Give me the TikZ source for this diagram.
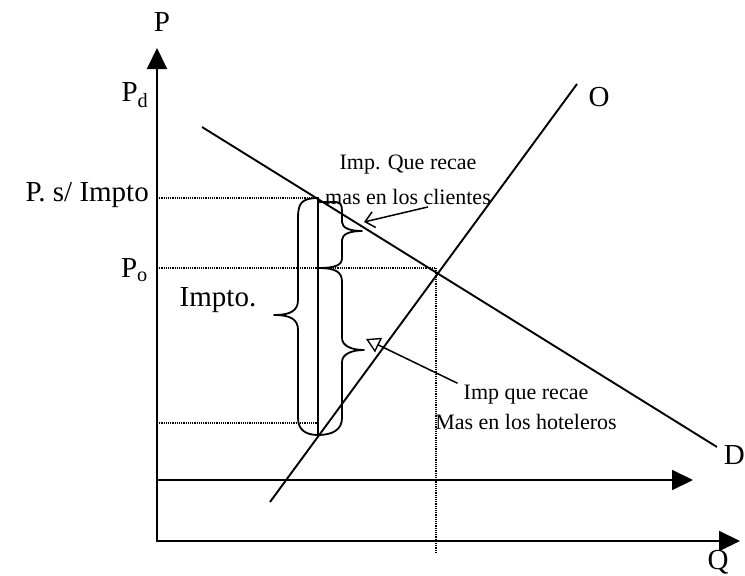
\documentclass[tikz,border=0pt]{standalone}
\usepackage{fontspec}
\setmainfont{Liberation Serif}
\usetikzlibrary{arrows.meta}

\begin{document}
\begin{tikzpicture}[
      x=1pt, y=-1pt,
      axis/.style={line width=2pt, -{Triangle[length=21pt, width=20pt]}},
      curve/.style={line width=1.9pt},
      guide/.style={line width=1.2pt, densely dotted},
      brc/.style={line width=1.8pt, line join=round},
      lbl/.style={inner sep=0pt, font=\fontsize{29}{32}\selectfont},
      note/.style={inner sep=0pt, font=\fontsize{22}{25}\selectfont},
      arr/.style={line width=1.5pt, -{Straight Barb[length=9pt, width=16pt]}},
      arrtri/.style={line width=1.5pt, -{Triangle[open, length=14pt, width=16pt, line width=1.4pt]}}
    ]
    \useasboundingbox (0,0) rectangle (745,576);
    % axes
    \coordinate (O0) at (157,541);
    \coordinate (Ptop) at (157,48);
    \coordinate (Qend) at (740,541);
    \draw[axis] (O0) -- (Ptop);
    \draw[axis] ([xshift=-1pt]O0) -- (Qend);
    \coordinate (Hs) at (157,480);
    \coordinate (He) at (693,480);
    \draw[axis] (Hs) -- (He);
    % demand and supply
    \coordinate (Ds) at (202,127);
    \coordinate (De) at (717,447);
    \coordinate (Ss) at (270,502);
    \coordinate (Se) at (577,84);
    \draw[curve] (Ds) -- (De);
    \draw[curve] (Ss) -- (Se);
    % guide lines
    \draw[guide] (157,198) -- (318,198);
    \draw[guide] (157,268) -- (436,268);
    \draw[guide] (157,423) -- (318,423);
    \draw[guide] (436,268) -- (436,552);
    % tax wedge
    \draw[curve] (318,198) -- (318,435);
    \draw[brc] (318,198) .. controls (301,198) and (298,204) .. (298,218)
      -- (298,300) .. controls (298,311) and (290,315) .. (274,315)
      .. controls (290,315) and (298,319) .. (298,330)
      -- (298,418) .. controls (298,430) and (306,435) .. (318,435);
    \draw[brc] (318,202) -- (334,202) .. controls (341,202) and (342,205) .. (342,212)
      -- (342,222) .. controls (342,228) and (350,231) .. (362,231)
      .. controls (350,231) and (342,234) .. (342,240)
      -- (342,258) .. controls (342,265) and (336,268) .. (318,268);
    \draw[brc] (318,268) .. controls (336,268) and (342,272) .. (342,282)
      -- (342,338) .. controls (342,346) and (352,350) .. (364,350)
      .. controls (352,350) and (342,354) .. (342,362)
      -- (342,418) .. controls (342,430) and (332,435) .. (318,435);
    % labels
    \node[lbl] (P) at (162,22) {P};
    \node[lbl] (Pd) at (135,95) {P\textsubscript{d}};
    \node[lbl, anchor=east] (Psi) at (149,195) {P. s/ Impto};
    \node[lbl, anchor=east] (Po) at (148,270) {P\textsubscript{o}};
    \node[lbl] (impto) at (218,300) {Impto.};
    \node[lbl] (Olbl) at (599,97) {O};
    \node[lbl, anchor=east] (Dlbl) at (745,455) {D};
    \node[lbl] (Qlbl) at (718,562) {Q};
    \node[note] (cl1) at (408,165) {Imp. Que recae};
    \node[note] (cl2) at (408,197) {mas en los clientes};
    \node[note] (ho1) at (526,395) {Imp que recae};
    \node[note] (ho2) at (526,422) {Mas en los hoteleros};
    % pointers
    \coordinate (tipC) at (364,222);
    \coordinate (tipH) at (366,339);
    \draw[arr] ([xshift=20pt, yshift=-2pt]cl2.south) -- (tipC);
    \draw[arrtri] ([xshift=-6pt, yshift=2pt]ho1.north west) -- (tipH);
  \end{tikzpicture}
\end{document}
